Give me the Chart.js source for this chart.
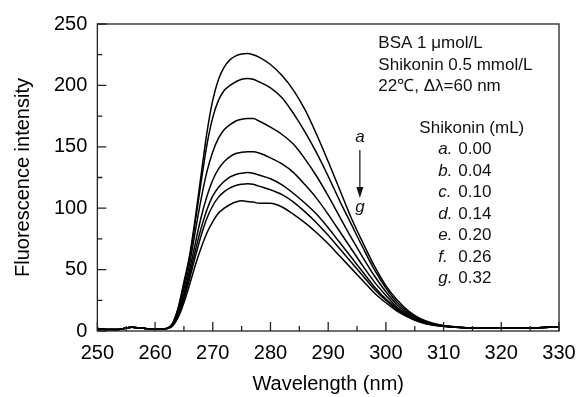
<!DOCTYPE html>
<html>
<head>
<meta charset="utf-8">
<script src="https://cdn.jsdelivr.net/npm/chart.js@4.4.1/dist/chart.umd.min.js"></script>
<style>
  html, body { margin: 0; padding: 0; background: #fff; }
  #wrap { width: 578px; height: 397px; }
</style>
</head>
<body>
<div id="wrap"><canvas id="grafico" width="578" height="397"></canvas></div>
<script>
// wavelength (nm) shared by all spectra
const wavelength = [250, 252, 254, 256, 258, 260, 261, 262, 263, 264, 265, 266, 267, 268, 269, 270, 271, 272, 273, 274, 275, 276, 277, 278,
    280, 282, 284, 286, 288, 290, 292, 294, 296, 298, 300, 302, 304, 306, 308, 310, 312, 315, 320, 325, 330];

const curvaA = [2, 1.2, 1.5, 3, 2.2, 1.5, 1.5, 2, 6, 19, 40, 62, 93, 128, 162, 188, 205, 215, 221, 224, 225.5, 226, 225, 223,
    217, 208, 196, 180, 160, 138, 115, 92, 72, 53, 37, 25, 16, 10, 6.5, 4.5, 3.5, 2.5, 2.5, 2.5, 3.5];
const curvaB = [2, 1.2, 1.5, 3, 2.2, 1.5, 1.5, 2, 6, 18, 38, 60, 90, 122, 152, 174, 188, 196, 200, 203, 205, 205.6, 205, 203,
    198, 190, 177, 162, 145, 126, 106, 87, 68, 50, 35, 23, 15, 9.5, 6, 4.3, 3.3, 2.5, 2.5, 2.5, 3.5];
const curvaC = [2, 1.2, 1.5, 3, 2.2, 1.5, 1.5, 2, 5, 16, 34, 55, 82, 108, 130, 146, 157, 164, 168, 171, 172.5, 173, 173, 171,
    166, 160, 152, 140, 126, 110, 93, 76, 60, 45, 32, 21, 14, 9, 5.8, 4.2, 3.2, 2.5, 2.5, 2.5, 3.5];
const curvaD = [2, 1.2, 1.5, 3, 2.2, 1.5, 1.5, 2, 5, 14, 30, 50, 72, 93, 110, 123, 132, 138, 142, 144.5, 145.5, 146, 146, 145,
    141, 136, 129, 119, 108, 95, 81, 67, 53, 40, 29, 19, 13, 8.5, 5.5, 4, 3.2, 2.5, 2.5, 2.5, 3.5];
const curvaE = [2, 1.2, 1.5, 3, 2.2, 1.5, 1.5, 2, 4.5, 13, 28, 46, 66, 84, 99, 110, 117, 122, 125.5, 127.5, 128.5, 129, 128.5, 127,
    124, 119, 112, 104, 95, 84, 72, 60, 48, 36, 26, 18, 12, 8, 5.2, 4, 3, 2.5, 2.5, 2.5, 3.5];
const curvaF = [2, 1.2, 1.5, 3, 2.2, 1.5, 1.5, 2, 4, 12, 26, 43, 61, 78, 92, 102, 109, 113.5, 116.5, 118.5, 119.5, 120, 119.5, 118,
    115, 111, 105, 97, 88, 78, 67, 56, 45, 34, 25, 17, 11.5, 7.5, 5, 3.8, 3, 2.5, 2.5, 2.5, 3.5];
const curvaG = [2, 1.2, 1.5, 3, 2.2, 1.5, 1.5, 2, 4, 11, 23, 38, 54, 68, 80, 89, 96, 100, 103, 105, 106, 105.5, 105, 104,
    104, 101, 95, 88, 80, 71, 61, 51, 41, 31, 23, 16, 11, 7, 4.8, 3.7, 3, 2.5, 2.5, 2.5, 3.5];

const letras = ['a', 'b', 'c', 'd', 'e', 'f', 'g'];
const volumes = ['0.00', '0.04', '0.10', '0.14', '0.20', '0.26', '0.32'];
const infoLinhas = ['BSA 1 \u03bcmol/L', 'Shikonin 0.5 mmol/L', '22\u2103, \u0394\u03bb=60 nm'];
const tituloLegenda = 'Shikonin (mL)';

const fonte = '"Liberation Sans", Arial, sans-serif';

// ticks pointing inwards plus the box frame
const moldura = {
    id: 'moldura',
    afterDraw(chart) {
        const { ctx, chartArea: ca, scales: { x, y } } = chart;
        ctx.save();
        ctx.strokeStyle = '#222';
        ctx.lineWidth = 1.3;
        ctx.strokeRect(ca.left, ca.top, ca.right - ca.left, ca.bottom - ca.top);
        ctx.beginPath();
        x.ticks.forEach(t => {
            const px = x.getPixelForValue(t.value);
            const len = t.value % 10 === 0 ? 9 : 5;
            ctx.moveTo(px, ca.bottom);
            ctx.lineTo(px, ca.bottom - len);
        });
        y.ticks.forEach(t => {
            const py = y.getPixelForValue(t.value);
            const len = t.value % 50 === 0 ? 9 : 5;
            ctx.moveTo(ca.left, py);
            ctx.lineTo(ca.left + len, py);
        });
        ctx.stroke();
        ctx.restore();
    }
};

// text block, legend and arrow inside the plot
const anotacoes = {
    id: 'anotacoes',
    afterDraw(chart) {
        const { ctx, chartArea: ca } = chart;
        ctx.save();
        ctx.fillStyle = '#111';
        ctx.textBaseline = 'alphabetic';
        ctx.font = '17px ' + fonte;
        ctx.textAlign = 'left';

        infoLinhas.forEach((linha, i) => {
            ctx.fillText(linha, ca.left + 281, ca.top + 24 + i * 21.5);
        });

        ctx.fillText(tituloLegenda, ca.left + 322, ca.top + 109);
        letras.forEach((l, i) => {
            const by = ca.top + 130 + i * 21.5;
            ctx.font = 'italic 17px ' + fonte;
            ctx.fillText(l + '.', ca.left + 341, by);
            ctx.font = '17px ' + fonte;
            ctx.fillText(volumes[i], ca.left + 361, by);
        });

        // arrow a -> g
        const ax = ca.left + 262.5;
        ctx.font = 'italic 17px ' + fonte;
        ctx.textAlign = 'center';
        ctx.fillText(letras[0], ax, ca.top + 118);
        ctx.fillText(letras[6], ax, ca.top + 188);
        ctx.strokeStyle = '#111';
        ctx.lineWidth = 1.2;
        ctx.beginPath();
        ctx.moveTo(ax, ca.top + 126);
        ctx.lineTo(ax, ca.top + 166);
        ctx.stroke();
        ctx.beginPath();
        ctx.moveTo(ax - 3.5, ca.top + 163);
        ctx.lineTo(ax + 3.5, ca.top + 163);
        ctx.lineTo(ax, ca.top + 174);
        ctx.closePath();
        ctx.fill();
        ctx.restore();
    }
};

const series = [curvaA, curvaB, curvaC, curvaD, curvaE, curvaF, curvaG];

const ctx = document.getElementById('grafico').getContext('2d');
new Chart(ctx, {
    type: 'line',
    data: {
        datasets: series.map((s, i) => ({
            label: letras[i],
            data: wavelength.map((w, j) => ({ x: w, y: s[j] })),
            borderColor: '#000',
            borderWidth: 1.5,
            pointRadius: 0,
            fill: false,
            cubicInterpolationMode: 'monotone'
        }))
    },
    options: {
        responsive: false,
        animation: false,
        layout: {
            padding: { left: 0, right: 0, top: 24, bottom: 0 }
        },
        plugins: {
            legend: { display: false },
            tooltip: { enabled: false }
        },
        scales: {
            x: {
                type: 'linear',
                min: 250,
                max: 330,
                afterFit: s => { s.paddingRight = 19; },
                grid: { display: false, drawTicks: false },
                border: { display: false },
                ticks: {
                    stepSize: 5,
                    autoSkip: false,
                    maxRotation: 0,
                    padding: 10,
                    color: '#000',
                    font: { family: fonte, size: 20 },
                    callback: v => (v % 10 === 0 ? v : '')
                },
                title: {
                    display: true,
                    text: 'Wavelength (nm)',
                    color: '#000',
                    font: { family: fonte, size: 20 },
                    padding: { top: -3, bottom: 1 }
                }
            },
            y: {
                min: 0,
                max: 250,
                grid: { display: false, drawTicks: false },
                border: { display: false },
                ticks: {
                    stepSize: 25,
                    autoSkip: false,
                    padding: 10,
                    color: '#000',
                    font: { family: fonte, size: 20 },
                    callback: v => (v % 50 === 0 ? v : '')
                },
                title: {
                    display: true,
                    text: 'Fluorescence intensity',
                    color: '#000',
                    font: { family: fonte, size: 20 },
                    padding: { top: 11, bottom: 9 }
                }
            }
        }
    },
    plugins: [moldura, anotacoes]
});
</script>
</body>
</html>
